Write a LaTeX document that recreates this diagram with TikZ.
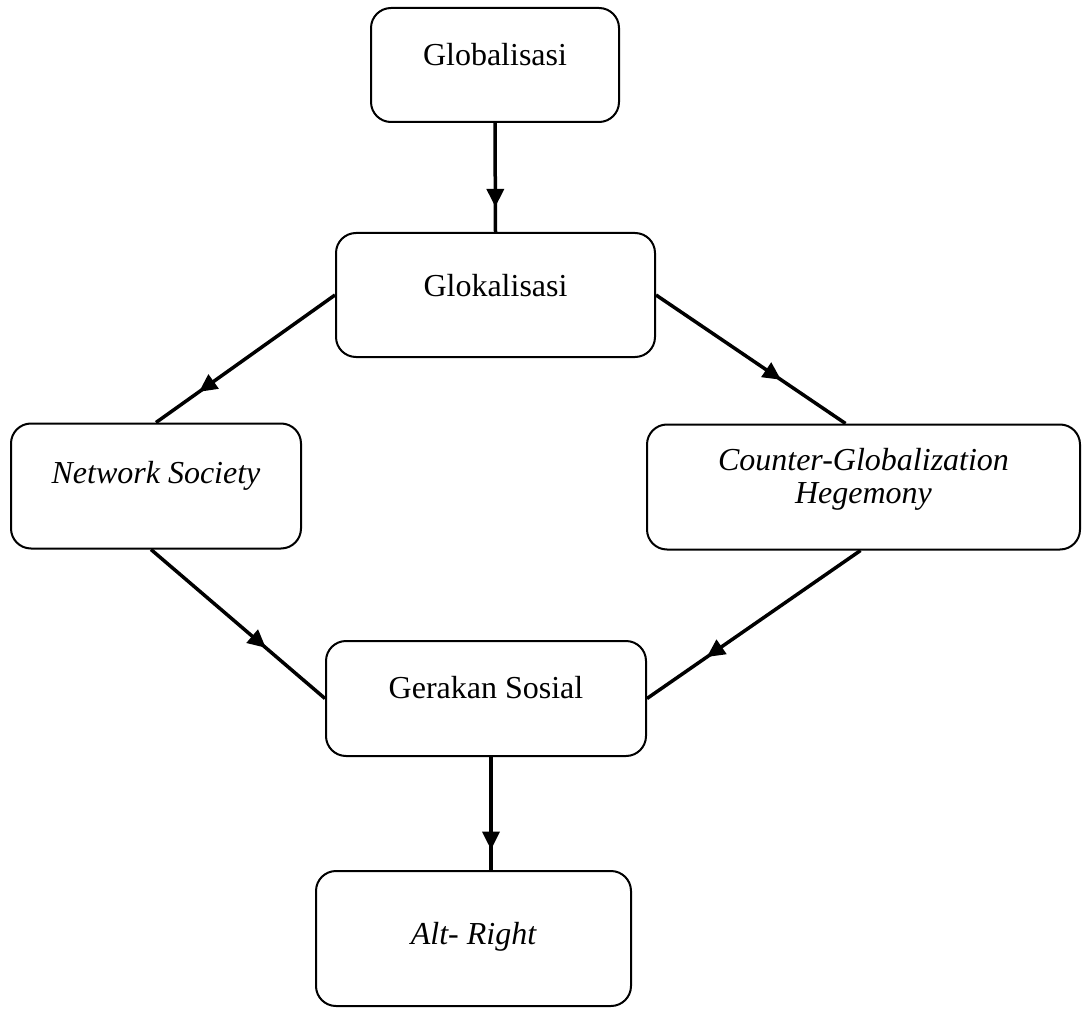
\documentclass[tikz,border=0pt]{standalone}
\usepackage{fontspec}
\setmainfont{Liberation Serif}
\usetikzlibrary{arrows.meta,decorations.markings,calc}
\newcommand{\bltext}[2]{\raisebox{#1}[0pt][0pt]{#2}}
\begin{document}
\begin{tikzpicture}[x=1pt,y=-1pt,
  box/.style={draw,line width=2pt,rounded corners=20pt,inner sep=0pt,
    font=\fontsize{32}{35}\selectfont},
  conn/.style={line width=3.5pt,postaction={decorate},
    decoration={markings,mark=at position #1 with {\arrow{Triangle[length=18pt,width=17pt]}}}}
]
\useasboundingbox (0,0) rectangle (1082,1011);
\node[box,minimum width=248pt,minimum height=114pt] (glob) at (495,65) {\bltext{-1pt}{Globalisasi}};
\node[box,minimum width=319pt,minimum height=124pt] (glok) at (495.5,295) {\bltext{-1pt}{Glokalisasi}};
\node[box,minimum width=290pt,minimum height=125pt] (ns) at (156,486) {\bltext{3pt}{\itshape Network Society}};
\node[box,minimum width=433pt,minimum height=125pt] (cg) at (863.5,487) {\bltext{-16pt}{\itshape\begin{tabular}[b]{@{}c@{}}Counter-Globalization\\[-2pt] Hegemony\end{tabular}}};
\node[box,minimum width=320pt,minimum height=115pt] (gs) at (486,698.5) {\bltext{0pt}{Gerakan Sosial}};
\node[box,minimum width=315pt,minimum height=135pt] (ar) at (473.5,938.5) {\bltext{-6pt}{\itshape Alt- Right}};
\draw[conn=0.77] (glob.south) -- (glok.north);
\draw[conn=0.76] (glok.west) -- (ns.north);
\draw[conn=0.66] (glok.east) -- ([xshift=-18pt]cg.north);
\draw[conn=0.66] ([xshift=-5pt]ns.south) -- (gs.west);
\draw[conn=0.72] ([xshift=-3pt]cg.south) -- (gs.east);
\draw[conn=0.82] ([xshift=5pt]gs.south) -- ([xshift=5pt]gs.south |- ar.north);
\end{tikzpicture}
\end{document}
